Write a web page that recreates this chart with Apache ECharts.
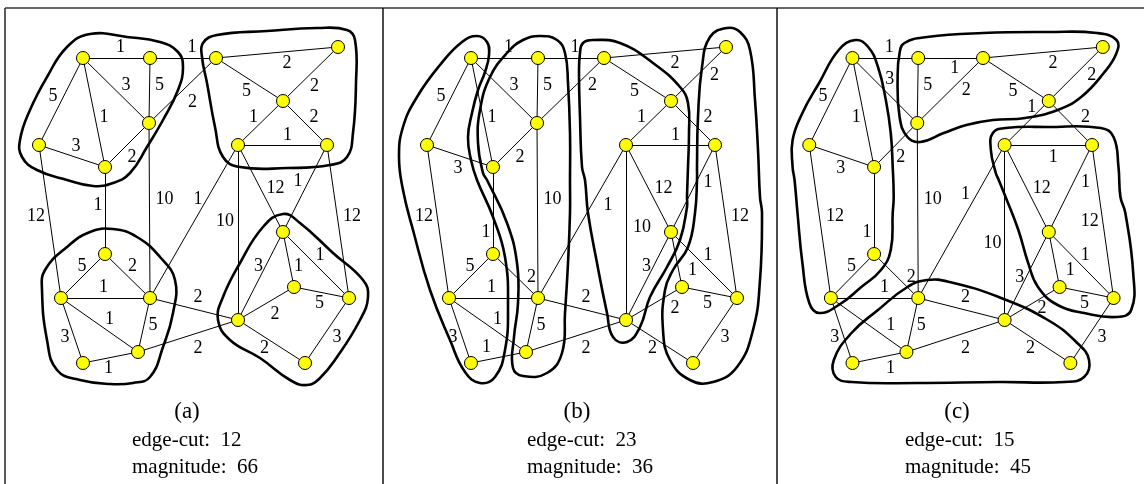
<!DOCTYPE html>
<html>
<head>
<meta charset="utf-8">
<script src="https://cdn.jsdelivr.net/npm/echarts@6/dist/echarts.min.js"></script>
<style>
  html, body { margin: 0; padding: 0; background: #fff; }
  #main { width: 1144px; height: 484px; }
</style>
</head>
<body>
<div id="main"></div>
<script>
// node layout (same graph in every panel), local panel coordinates
var nodeNames = ['A','B','C','D','E','F','G','H','I','J','K','L','M','N','O','P','Q','R','S','T'];
var nodeX = [83, 150, 216, 338, 283, 149, 39, 105, 238, 327, 105, 61, 150, 138, 83, 283, 294, 349, 238, 305];
var nodeY = [58, 58, 58, 47, 101, 123, 145, 167, 145, 145, 254, 298, 298, 352, 363, 232, 287, 298, 320, 363];

// edges
var edgeFrom   = [0, 1, 2, 0, 0, 0, 1, 5, 5, 6, 2, 4, 4, 4, 8, 8,  9, 6,  7, 5,  8, 8,  9,  10, 10, 11, 11, 11, 12, 14, 12, 13, 15, 15, 15, 16, 16, 18, 17];
var edgeTo     = [1, 2, 3, 6, 7, 5, 5, 2, 7, 7, 4, 3, 9, 8, 9, 15, 15, 11, 10, 12, 12, 18, 17, 11, 12, 12, 13, 14, 13, 13, 18, 18, 18, 16, 17, 18, 17, 19, 19];
var edgeWeight = [1, 1, 2, 5, 1, 3, 5, 2, 2, 3, 5, 2, 2, 1, 1, 12, 1, 12, 1, 10, 1, 10, 12, 5,  2,  1,  1,  3,  5,  1,  2,  2,  3,  1,  1,  2,  5,  2,  3];

var panelTags = ['(a)', '(b)', '(c)'];
var edgeCut = [12, 23, 15];
var magnitude = [66, 36, 45];

// partition outlines per panel
var outlinesA = [
  [[67,47],[90,34],[127,37],[160,42],[178,52],[183,67],[178,90],[163,120],[147,147],[130,173],[113,183],[93,186],[67,180],[37,170],[22,157],[20,140],[30,110],[47,77]],
  [[203,43],[217,35],[267,31],[317,28],[347,30],[355,40],[356,83],[353,133],[347,157],[330,165],[287,168],[240,167],[223,157],[215,127],[207,83],[202,57]],
  [[113,229],[137,237],[160,257],[175,280],[173,313],[163,347],[150,377],[133,383],[110,384],[80,380],[57,370],[47,340],[42,290],[45,270],[67,247],[90,232]],
  [[283,214],[300,223],[333,253],[363,280],[368,297],[360,320],[337,357],[320,378],[307,385],[290,380],[260,358],[230,340],[218,320],[223,297],[240,263],[263,227]]
];
var outlinesB = [
  [[74,42],[89,36],[99,42],[101,55],[97,72],[90,90],[84,113],[80,137],[83,160],[89,180],[105,217],[117,257],[120,307],[117,350],[107,377],[92,383],[77,372],[62,340],[42,290],[25,230],[15,190],[11,157],[15,127],[29,97],[52,65]],
  [[152,36],[169,40],[177,53],[180,83],[182,133],[182,183],[182,213],[180,263],[177,313],[174,353],[159,373],[135,376],[125,368],[126,337],[130,303],[129,263],[119,223],[99,180],[95,173],[90,143],[92,110],[102,77],[119,53],[135,40]],
  [[195,43],[205,40],[232,43],[265,63],[292,87],[300,103],[301,133],[300,167],[299,197],[299,207],[292,240],[279,267],[262,297],[252,327],[239,342],[225,337],[219,313],[209,263],[200,213],[197,180],[194,167],[192,117],[191,73],[192,53]],
  [[339,28],[352,32],[362,50],[367,100],[370,150],[372,197],[374,213],[372,280],[365,330],[349,367],[325,382],[302,380],[282,360],[275,330],[277,290],[285,270],[300,247],[307,213],[309,180],[309,167],[310,117],[314,67],[322,37]]
];
var outlinesC = [
  [[86,40],[99,47],[109,67],[117,100],[122,133],[124,167],[125,197],[124,213],[122,250],[112,270],[92,287],[69,305],[49,313],[39,303],[32,263],[27,213],[24,180],[22,167],[22,140],[32,113],[49,83],[69,50]],
  [[136,43],[159,37],[216,33],[282,32],[332,33],[352,40],[352,53],[339,73],[316,97],[292,110],[259,118],[226,120],[199,125],[176,133],[152,142],[139,137],[131,117],[129,77],[131,53]],
  [[226,133],[239,128],[282,127],[336,128],[349,137],[354,167],[356,197],[361,213],[369,273],[367,310],[352,317],[319,313],[292,305],[272,287],[262,263],[252,230],[239,197],[232,180],[229,173],[224,150]],
  [[159,280],[182,282],[232,297],[282,320],[312,343],[324,360],[319,377],[299,382],[232,382],[149,383],[82,382],[66,377],[64,360],[82,333],[109,310],[139,287]]
];
var outlines = [outlinesA, outlinesB, outlinesC];

// weight label nudges (px from edge midpoint), panel (a) as base
var baseNudge = [[4,-11],[9,-11],[10,11],[-8,-5],[10,5],[10,-5],[10,-5],[10,12],[5,12],[4,-10],
  [-3,12],[4,12],[9,-6],[-7,-6],[5,-10],[15,0],[-7,-7],[-14,-5],[-7,-5],[15,-11],
  [4,-22],[-13,-11],[14,-5],[-1,-10],[5,-10],[-2,-11],[10,-6],[-7,7],[9,0],[-2,11],
  [4,-12],[10,12],[-2,-10],[10,7],[4,-10],[9,11],[-2,11],[-7,7],[10,7]];
var nudgeB = {1:[4,-11], 7:[22,-5], 9:[-2,12], 11:[16,1], 12:[15,-6], 16:[15,-6], 18:[-7,22],
  20:[26,-16], 21:[16,-5], 24:[16,1], 29:[-12,-10], 33:[16,11], 35:[21,5]};
var nudgeC = {1:[4,10], 4:[-7,5], 5:[5,-11], 7:[16,0], 9:[-1,12], 11:[16,1], 12:[15,-6], 13:[5,-16],
  14:[5,12], 16:[15,-6], 17:[15,-5], 18:[-7,22], 20:[4,-27], 21:[-12,11], 22:[-13,0], 24:[15,1],
  25:[10,-11], 26:[22,0], 29:[11,11], 32:[-7,1], 33:[16,11], 35:[10,5]};
var nudges = [{}, nudgeB, nudgeC].map(function (o) {
  return baseNudge.map(function (n, k) { return o[k] || n; });
});

var panelLeft = [0, 388, 771];
var tagX = [187, 577, 957];
var textX = [132, 527, 905];
var FONT = 'Liberation Serif';

var chart = echarts.init(document.getElementById('main'), null, { renderer: 'canvas' });

var grids = [], xAxes = [], yAxes = [], series = [];
panelLeft.forEach(function (left, i) {
  grids.push({ left: left, top: 0, width: 380, height: 484 });
  xAxes.push({ type: 'value', gridIndex: i, min: 0, max: 380, show: false });
  yAxes.push({ type: 'value', gridIndex: i, min: 0, max: 484, inverse: true, show: false });

  // partition outlines
  series.push({
    type: 'custom',
    coordinateSystem: 'cartesian2d',
    xAxisIndex: i, yAxisIndex: i,
    silent: true, z: 2,
    data: outlines[i].map(function (o, k) { return [o[0][0], o[0][1], k]; }),
    renderItem: function (params, api) {
      var pts = outlines[i][params.dataIndex].map(function (p) { return api.coord(p); });
      return {
        type: 'polygon',
        shape: { points: pts, smooth: 0.45 },
        style: { fill: 'none', stroke: '#000', lineWidth: 2.6 }
      };
    }
  });

  // the graph itself
  series.push({
    type: 'graph',
    layout: 'none',
    coordinateSystem: 'cartesian2d',
    xAxisIndex: i, yAxisIndex: i,
    silent: true, z: 3,
    symbol: 'circle',
    symbolSize: 13,
    itemStyle: { color: '#ffff00', borderColor: '#000', borderWidth: 1 },
    lineStyle: { color: '#000', width: 1, opacity: 1, curveness: 0 },
    label: { show: false },
    emphasis: { disabled: true },
    data: nodeNames.map(function (n, k) { return { name: n, value: [nodeX[k], nodeY[k]] }; }),
    links: edgeFrom.map(function (s, k) { return { source: s, target: edgeTo[k] }; })
  });

  // edge weights
  series.push({
    type: 'custom',
    coordinateSystem: 'cartesian2d',
    xAxisIndex: i, yAxisIndex: i,
    silent: true, z: 4,
    data: edgeFrom.map(function (s, k) {
      var t = edgeTo[k];
      return [(nodeX[s] + nodeX[t]) / 2, (nodeY[s] + nodeY[t]) / 2, k];
    }),
    renderItem: function (params, api) {
      var p = api.coord([api.value(0), api.value(1)]);
      var n = nudges[i][params.dataIndex];
      return {
        type: 'text',
        x: p[0] + n[0],
        y: p[1] + n[1],
        style: {
          text: String(edgeWeight[params.dataIndex]),
          fill: '#000',
          fontSize: 18,
          fontFamily: FONT,
          align: 'center',
          verticalAlign: 'middle'
        }
      };
    }
  });
});

// frame and captions
var graphics = [
  { type: 'line', shape: { x1: 5, y1: 8, x2: 1144, y2: 8 }, style: { stroke: '#333', lineWidth: 1.6 } },
  { type: 'line', shape: { x1: 5, y1: 8, x2: 5, y2: 484 }, style: { stroke: '#333', lineWidth: 1.6 } },
  { type: 'line', shape: { x1: 383, y1: 8, x2: 383, y2: 484 }, style: { stroke: '#111', lineWidth: 1.5 } },
  { type: 'line', shape: { x1: 777, y1: 8, x2: 777, y2: 484 }, style: { stroke: '#111', lineWidth: 1.5 } }
];
panelTags.forEach(function (tag, i) {
  graphics.push({ type: 'text', x: tagX[i], y: 412,
    style: { text: tag, fill: '#000', fontSize: 23, fontFamily: FONT, align: 'center', verticalAlign: 'middle' } });
  graphics.push({ type: 'text', x: textX[i], y: 440,
    style: { text: 'edge-cut:  ' + edgeCut[i], fill: '#000', fontSize: 21, fontFamily: FONT, align: 'left', verticalAlign: 'middle' } });
  graphics.push({ type: 'text', x: textX[i], y: 467,
    style: { text: 'magnitude:  ' + magnitude[i], fill: '#000', fontSize: 21, fontFamily: FONT, align: 'left', verticalAlign: 'middle' } });
});

chart.setOption({
  animation: false,
  backgroundColor: '#fff',
  grid: grids,
  xAxis: xAxes,
  yAxis: yAxes,
  graphic: graphics,
  series: series
});
</script>
</body>
</html>
